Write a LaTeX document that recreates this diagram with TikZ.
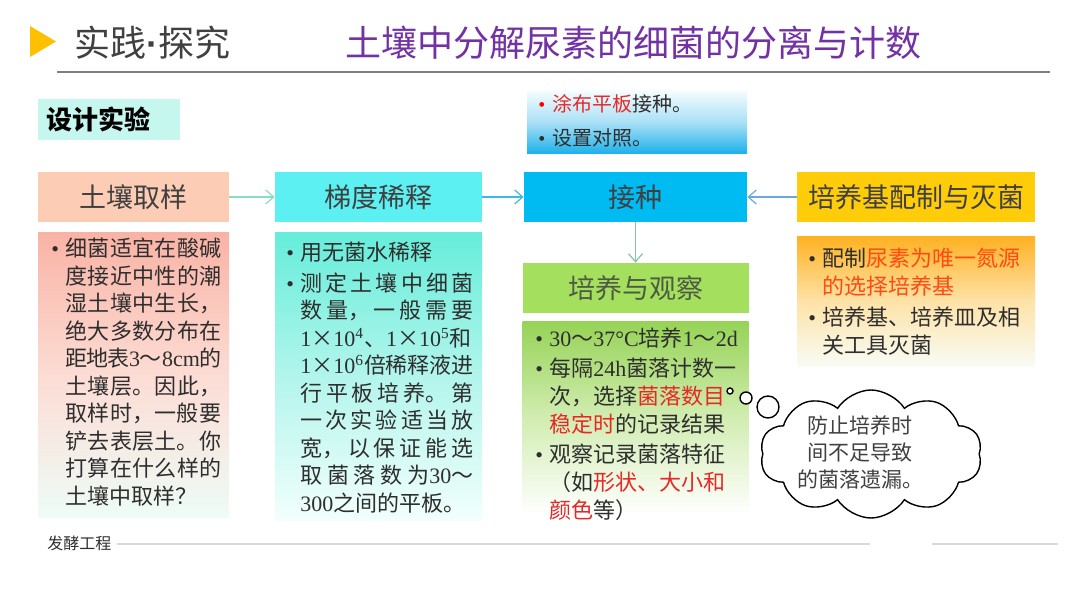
\documentclass[tikz,border=0pt]{standalone}
\usepackage{fontspec}
\setmainfont{Noto Sans CJK SC}
\newfontfamily\tnr{Liberation Serif}
\newfontfamily\lsans{Liberation Sans}
\usetikzlibrary{arrows.meta,shapes.symbols}
\XeTeXlinebreaklocale "zh"
\XeTeXlinebreakskip=0pt plus 3pt minus 0.6pt
\XeTeXlinebreakpenalty=10000
\definecolor{hgray}{HTML}{404040}
\definecolor{h5txt}{HTML}{4E5A44}
\definecolor{titlep}{HTML}{7232A4}
\definecolor{tri}{HTML}{FFC000}
\definecolor{body}{HTML}{2E2E2E}
\definecolor{redA}{HTML}{E62828}
\definecolor{redB}{HTML}{FF4A12}
\definecolor{sjbox}{HTML}{C6F7EE}
\definecolor{h1c}{HTML}{FCCCB4}
\definecolor{h2c}{HTML}{5CF0F2}
\definecolor{h3c}{HTML}{00BAF2}
\definecolor{h4c}{HTML}{FFCC0A}
\definecolor{h5c}{HTML}{A4E05E}
\definecolor{b1top}{HTML}{F9B3A5}
\definecolor{b1mid}{HTML}{FCDCD4}
\definecolor{b1bot}{HTML}{EEFCF7}
\definecolor{b2top}{HTML}{66EDDA}
\definecolor{b2mid}{HTML}{B2F5EC}
\definecolor{b2bot}{HTML}{F2FFFC}
\definecolor{b3top}{HTML}{96D356}
\definecolor{b3mid}{HTML}{D2EDB2}
\definecolor{b3bot}{HTML}{FFFFFF}
\definecolor{b4top}{HTML}{FFB224}
\definecolor{b4mid}{HTML}{FEE3A8}
\definecolor{b4bot}{HTML}{F8FCF6}
\definecolor{tbtop}{HTML}{F4FCFE}
\definecolor{tbmid}{HTML}{A8E0F6}
\definecolor{tbbot}{HTML}{1AB0EA}
\definecolor{a1}{HTML}{8ADCC6}
\definecolor{a2}{HTML}{3CBAE2}
\definecolor{a3}{HTML}{6AAAD8}
\definecolor{a4}{HTML}{80C6A0}
\definecolor{footl}{HTML}{D9D9D9}
% first bullet of a node (paragraph already started by TikZ)
\newcommand\bfirst[1][body]{\leftskip=7pt\noindent\llap{\makebox[7pt][l]{\color{#1}\tnr\textbullet}}}
% further bullets
\newcommand\bitem[1][body]{\par\noindent\bfirst[#1]}
\newcommand\nl{\hfil\break}
\newcommand\rd[1]{{\color{redA}#1}}
\newcommand\rdb[1]{{\color{redB}#1}}
\newcommand\tn[1]{{\tnr #1}}
\tikzset{
  hdr/.style={inner sep=0pt, minimum height=25pt, text=hgray, font=\fontsize{13.5}{16}\selectfont},
  bodybox/.style={inner sep=0pt, shading=axis},
  txt/.style={anchor=north west, inner sep=0pt, align=justify, text=body,
    font=\fontsize{11}{13.75}\selectfont,
    execute at begin node={\tolerance=10000\hbadness=10000\parskip=2pt}},
  arr/.style={-{Straight Barb[length=4pt,width=7pt]}, line width=0.6pt},
  bub/.style={draw=black, line width=0.7pt, fill=white, inner sep=0pt}
}
\begin{document}
\begin{tikzpicture}[x=0.5pt,y=-0.5pt]
\useasboundingbox (0,0) rectangle (1080,608);
\fill[white] (0,0) rectangle (1080,608);
% title bar
\fill[tri] (30,26) -- (30,57) -- (56,41.5) -- cycle;
\node[anchor=west, inner sep=0pt, text=hgray, font=\fontsize{18}{20}\selectfont] (sj) at (74,43) {实践{\lsans\bfseries ·}探究};
\node[inner sep=0pt, text=titlep, font=\fontsize{18}{20}\selectfont] (title) at (633.5,43) {土壤中分解尿素的细菌的分离与计数};
\draw[gray, line width=0.6pt] (57,72) -- (1050,72);
% design experiment label
\node[fill=sjbox, minimum width=71pt, minimum height=20.5pt, inner sep=0pt] (sjb) at (109,119.5) {};
\node[anchor=west, inner sep=0pt, font=\fontsize{13}{15}\selectfont\bfseries] (sjt) at (46,119.5) {设计实验};
% top box above inoculation
\node[bodybox, minimum width=110pt, minimum height=31.5pt, top color=tbtop, bottom color=tbbot, middle color=tbmid] (tb) at (637,122.5) {};
\node[txt, font=\fontsize{10}{17}\selectfont, text width=100pt, execute at begin node={\parskip=0pt}] (tbt) at (538,94) {\bfirst[red]\rd{涂布平板}接种。
\bitem 设置对照。\par};
% headers
\node[hdr, fill=h1c, minimum width=95.5pt] (h1) at (133.5,197) {土壤取样};
\node[hdr, fill=h2c, minimum width=103.5pt] (h2) at (378.5,197) {梯度稀释};
\node[hdr, fill=h3c, minimum width=111.5pt] (h3) at (635.5,197) {接种};
\node[hdr, fill=h4c, minimum width=119pt] (h4) at (916,197) {培养基配制与灭菌};
\node[hdr, fill=h5c, minimum width=113pt, text=h5txt] (h5) at (635.5,288) {培养与观察};
% body boxes
\node[bodybox, minimum width=95.5pt, minimum height=142pt, top color=b1top, bottom color=b1bot, middle color=b1mid] (b1) at (133.5,375) {};
\node[bodybox, minimum width=103.5pt, minimum height=143.5pt, top color=b2top, bottom color=b2bot, middle color=b2mid] (b2) at (378.5,376.5) {};
\node[bodybox, minimum width=113pt, minimum height=96.5pt, top color=b3top, bottom color=b3bot, middle color=b3mid] (b3) at (635.5,418.5) {};
\node[bodybox, minimum width=119pt, minimum height=65pt, top color=b4top, bottom color=b4bot, middle color=b4mid] (b4) at (916,302) {};
% body texts
\node[txt, text width=85pt] (t1) at (51,238) {\bfirst 细菌适宜在酸碱\break
度接近中性的潮\break
湿土壤中生长，\break
绝大多数分布在\break
距地表\tn{3}～\tn{8cm}的\break
土壤层。因此，\break
取样时，一般要\break
铲去表层土。你\break
打算在什么样的\break
土壤中取样？\par};
\node[txt, text width=93.5pt, execute at begin node={\parskip=1.5pt}] (t2) at (286,242) {\bfirst 用无菌水稀释
\bitem 测定土壤中细菌\break
数量，一般需要\break
\tn{1}×\tn{10\textsuperscript{4}}、\tn{1}×\tn{10\textsuperscript{5}}和\nl
\tn{1}×\tn{10\textsuperscript{6}}倍稀释液进\break
行平板培养。第\break
一次实验适当放\break
宽，以保证能选\break
取菌落数为\tn{30}～\break
\tn{300}之间的平板。\par};
\node[txt, text width=102pt, font=\fontsize{11}{14}\selectfont, execute at begin node={\parskip=1pt}] (t3) at (535,327) {\bfirst \tn{30}～\tn{37°C}培养\tn{1}～\tn{2d}
\bitem 每隔\tn{24h}菌落计数一\nl
次，选择\rd{菌落数目}\nl
\rd{稳定时}的记录结果
\bitem 观察记录菌落特征\nl
（如\rd{形状、大小和}\nl
\rd{颜色}等）\par};
\node[txt, text width=106pt] (t4) at (808,248) {\bfirst 配制\rdb{尿素为唯一氮源}\nl
\rdb{的选择培养基}
\bitem 培养基、培养皿及相\nl
关工具灭菌\par};
% connectors
\draw[arr, a1] (h1) -- (h2);
\draw[arr, a2] (h2) -- (h3);
\draw[arr, a3] (h4) -- (h3);
\draw[arr, a4] (h3.south) -- (h5.north);
% thought bubble
\node[bub, circle, minimum size=3pt] (c1) at (730,391) {};
\node[bub, circle, minimum size=6pt] (c2) at (746,398) {};
\node[bub, circle, minimum size=11pt] (c3) at (768,407) {};
\node[bub, cloud, cloud puffs=10, cloud puff arc=115, aspect=1.75, minimum width=111pt, minimum height=64pt] (cl) at (871,454) {};
\node[inner sep=0pt, align=center, text=hgray, font=\fontsize{10.5}{13.5}\selectfont] (clt) at (860,452) {防止培养时\\间不足导致\\的菌落遗漏。};
% footer
\node[anchor=west, inner sep=0pt, text=body, font=\fontsize{8}{10}\selectfont] (ft) at (47,543) {发酵工程};
\coordinate (fl1) at (870,544);
\coordinate (fl2) at (932,544);
\coordinate (fl3) at (1058,544);
\draw[footl, line width=0.7pt] (ft.east) ++(5,1) -- (fl1);
\draw[footl, line width=0.7pt] (fl2) -- (fl3);
\end{tikzpicture}
\end{document}
